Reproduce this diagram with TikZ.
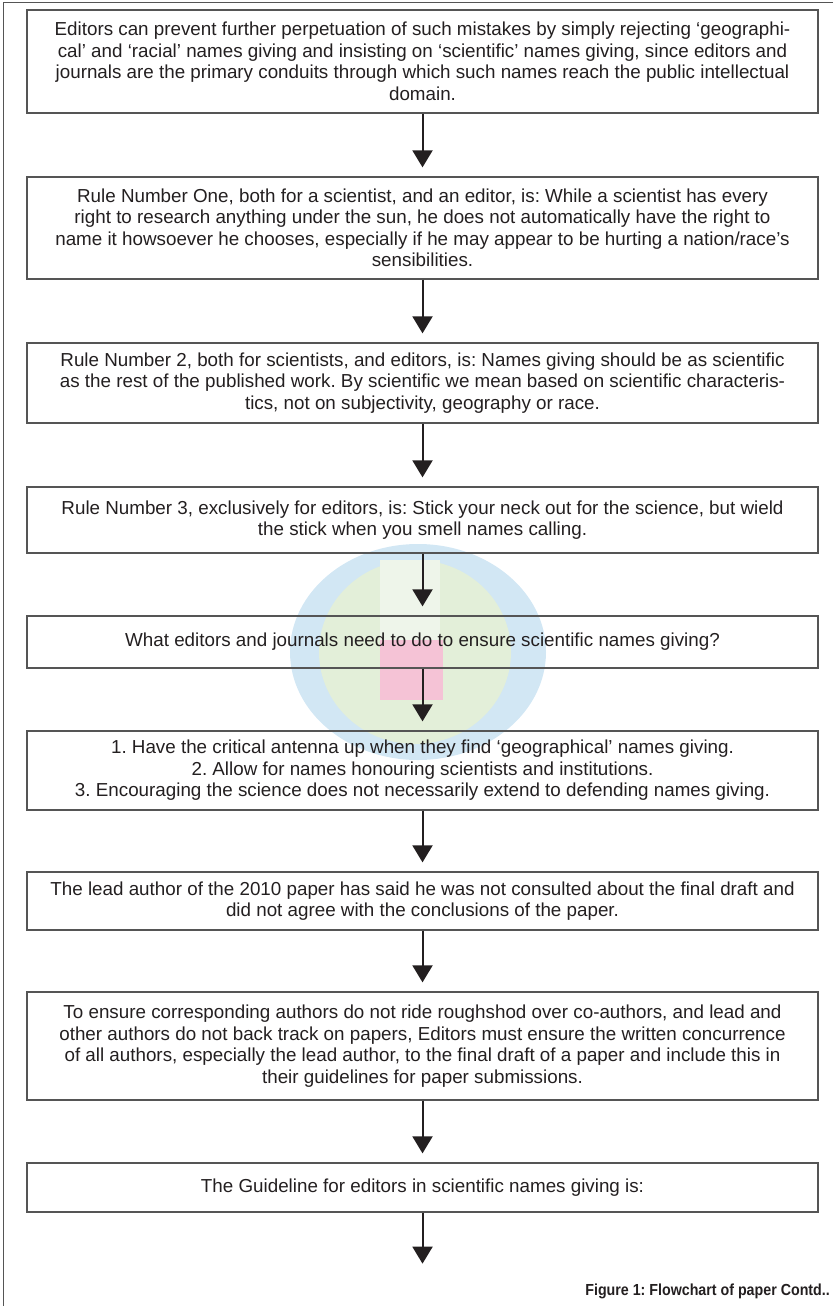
\documentclass[tikz,border=0pt]{standalone}
\usepackage{fontspec}
\setmainfont{Liberation Sans}
\usetikzlibrary{arrows.meta,calc}
\definecolor{ink}{HTML}{231F20}
\definecolor{framec}{HTML}{555555}
\definecolor{wmblue}{HTML}{D2E7F4}
\definecolor{wmgreen}{HTML}{E3EFD9}
\definecolor{wmlight}{HTML}{EEF5EA}
\definecolor{wmpink}{HTML}{F5C3D6}
\begin{document}
\frenchspacing
\begin{tikzpicture}[x=1pt,y=-1pt,
  box/.style={draw=framec,line width=1.3pt,minimum width=791pt,inner sep=0pt,align=center,text=ink,font=\fontsize{18.8}{21.5}\selectfont},
  conn/.style={draw=ink,line width=2pt,-{Triangle[width=20pt,length=17pt]}},
  outer/.style={draw=framec,line width=1pt}]
\useasboundingbox (0,0) rectangle (833,1306);
% watermark
\fill[wmblue] (418,652) ellipse [x radius=128pt, y radius=108pt];
\fill[wmgreen] (415,652) ellipse [x radius=96pt, y radius=92pt];
\fill[wmlight] (380,560) rectangle (440,640);
\fill[wmpink] (380,640) rectangle (443,700);
% frame
\draw[outer] (833,3) -- (3,3) -- (3,1306);
% boxes
\node[box,minimum height=103pt] (b1) at (422.5,61.5) {Editors can prevent further perpetuation of such mistakes by simply rejecting ‘geographi-\\cal’ and ‘racial’ names giving and insisting on ‘scientific’ names giving, since editors and\\journals are the primary conduits through which such names reach the public intellectual\\domain.};
\node[box,minimum height=102pt] (b2) at (422.5,228) {Rule Number One, both for a scientist, and an editor, is: While a scientist has every\\right to research anything under the sun, he does not automatically have the right to\\name it howsoever he chooses, especially if he may appear to be hurting a nation/race’s\\sensibilities.};
\node[box,minimum height=80pt] (b3) at (422.5,383) {Rule Number 2, both for scientists, and editors, is: Names giving should be as scientific\\as the rest of the published work. By scientific we mean based on scientific characteris-\\tics, not on subjectivity, geography or race.};
\node[box,minimum height=66pt] (b4) at (422.5,520) {Rule Number 3, exclusively for editors, is: Stick your neck out for the science, but wield\\the stick when you smell names calling.};
\node[box,minimum height=52pt] (b5) at (422.5,642) {What editors and journals need to do to ensure scientific names giving?};
\node[box,minimum height=79pt] (b6) at (422.5,770.5) {1. Have the critical antenna up when they find ‘geographical’ names giving.\\2. Allow for names honouring scientists and institutions.\\3. Encouraging the science does not necessarily extend to defending names giving.};
\node[box,minimum height=58pt] (b7) at (422.5,901) {The lead author of the 2010 paper has said he was not consulted about the final draft and\\did not agree with the conclusions of the paper.};
\node[box,minimum height=108pt] (b8) at (422.5,1046) {To ensure corresponding authors do not ride roughshod over co-authors, and lead and\\other authors do not back track on papers, Editors must ensure the written concurrence\\of all authors, especially the lead author, to the final draft of a paper and include this in\\their guidelines for paper submissions.};
\node[box,minimum height=49pt] (b9) at (422.5,1187.5) {The Guideline for editors in scientific names giving is:};
% arrow tips
\coordinate (t1) at ($(b2.north)+(0,-9)$);
\coordinate (t2) at ($(b3.north)+(0,-9)$);
\coordinate (t3) at ($(b4.north)+(0,-9)$);
\coordinate (t4) at ($(b5.north)+(0,-9)$);
\coordinate (t5) at ($(b6.north)+(0,-9)$);
\coordinate (t6) at ($(b7.north)+(0,-9)$);
\coordinate (t7) at ($(b8.north)+(0,-9)$);
\coordinate (t8) at ($(b9.north)+(0,-9)$);
\coordinate (t9) at ($(b9.south)+(0,51)$);
\draw[conn] (b1.south) -- (t1);
\draw[conn] (b2.south) -- (t2);
\draw[conn] (b3.south) -- (t3);
\draw[conn] (b4.south) -- (t4);
\draw[conn] (b5.south) -- (t5);
\draw[conn] (b6.south) -- (t6);
\draw[conn] (b7.south) -- (t7);
\draw[conn] (b8.south) -- (t8);
\draw[conn] (b9.south) -- (t9);
% caption
\node[anchor=east,inner sep=0pt,text=ink,font=\bfseries\fontsize{16}{18}\selectfont] (cap) at (830,1291) {\scalebox{0.89}[1]{Figure 1: Flowchart of paper Contd..}};
\end{tikzpicture}
\end{document}
